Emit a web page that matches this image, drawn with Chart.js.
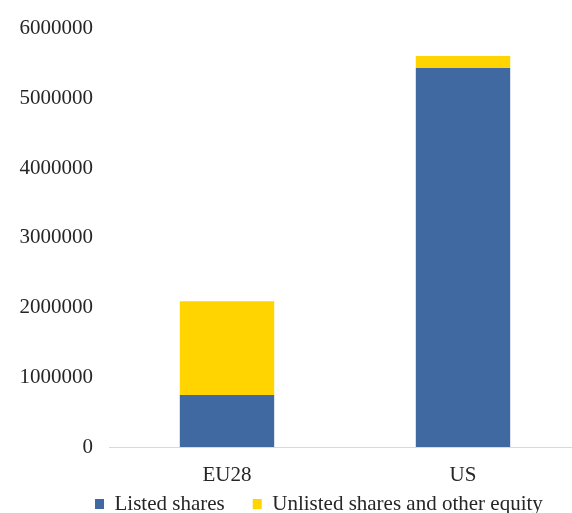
<!DOCTYPE html>
<html>
<head>
<meta charset="utf-8">
<script src="https://cdn.jsdelivr.net/npm/chart.js@4/dist/chart.umd.min.js"></script>
<style>
  html, body { margin: 0; padding: 0; background: #ffffff; overflow: hidden; }
  #wrap { width: 581px; height: 513px; }
</style>
</head>
<body>
<div id="wrap"><canvas id="c" width="581" height="513"></canvas></div>
<script>
// Categories and series values
const categories = ["EU28", "US"];
const listedShares = [744000, 5436000];
const unlistedShares = [1346000, 171000];
const seriesNames = ["Listed shares", "Unlisted shares and other equity"];
const yTicks = [0, 1000000, 2000000, 3000000, 4000000, 5000000, 6000000];

const textColor = "#262626";
const fontFamily = "'Liberation Serif', 'Times New Roman', serif";

// Places the legend row under the axis labels, starting a little in from the left edge
const legendPlacement = {
  id: "legendPlacement",
  afterLayout(chart) {
    const lg = chart.legend;
    if (!lg) return;
    const dx = 67 - lg.left;
    const dy = 465.5 - lg.top;
    lg.left += dx; lg.right += dx;
    lg.top += dy; lg.bottom += dy;
  }
};

new Chart(document.getElementById("c"), {
  type: "bar",
  data: {
    labels: categories,
    datasets: [
      { label: seriesNames[0], data: listedShares, backgroundColor: "#4169a1", borderWidth: 0 },
      { label: seriesNames[1], data: unlistedShares, backgroundColor: "#ffd400", borderWidth: 0 }
    ]
  },
  plugins: [legendPlacement],
  options: {
    responsive: false,
    animation: false,
    layout: { padding: { left: 0, right: 0, top: 25, bottom: -33 } },
    datasets: { bar: { barPercentage: 0.4, categoryPercentage: 1.0 } },
    plugins: {
      tooltip: { enabled: false },
      legend: {
        position: "bottom",
        align: "start",
        labels: {
          color: textColor,
          font: { family: fontFamily, size: 21 },
          boxWidth: 9,
          boxHeight: 10,
          padding: 28
        }
      }
    },
    scales: {
      x: {
        stacked: true,
        grid: { display: false, drawTicks: false },
        border: { display: true, color: "#d9d9d9", width: 1 },
        ticks: { color: textColor, font: { family: fontFamily, size: 21 }, padding: 16 },
        afterFit: (s) => { s.height = 40; }
      },
      y: {
        stacked: true,
        min: 0,
        max: 6000000,
        grid: { display: false, drawTicks: false },
        border: { display: false },
        afterBuildTicks: (s) => { s.ticks = yTicks.map(v => ({ value: v })); },
        ticks: {
          color: textColor,
          font: { family: fontFamily, size: 21 },
          padding: 16,
          callback: (v) => String(v)
        },
        afterFit: (s) => { s.width = 109; }
      }
    }
  }
});
</script>
</body>
</html>
